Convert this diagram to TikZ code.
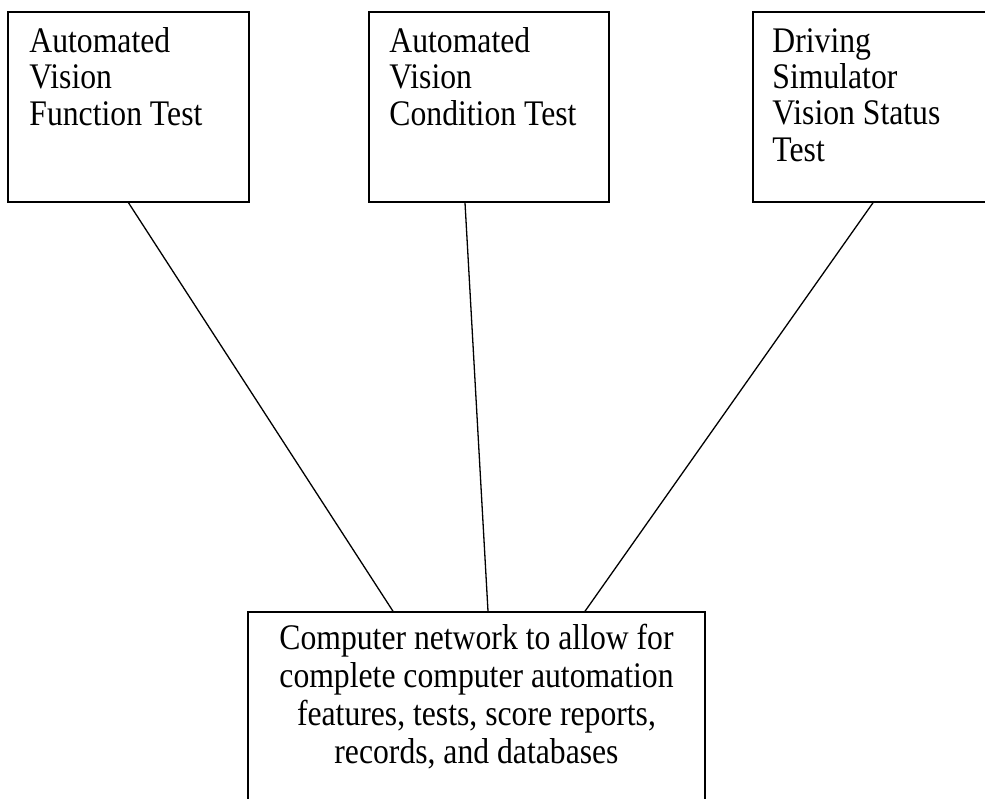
\documentclass[tikz,border=0pt]{standalone}
\usepackage{fontspec}
\setmainfont{Liberation Serif}
\newfontfamily\narrowserif[FakeStretch=0.88]{Liberation Serif}
\usetikzlibrary{positioning}

\begin{document}
\begin{tikzpicture}[x=1pt,y=-1pt,
    testbox/.style={draw, line width=1.5pt, inner sep=0pt},
    link/.style={line width=1.3pt},
    boxtext/.style={inner sep=0pt, align=left, anchor=base west,
        font=\narrowserif\fontsize{36}{36.3}\selectfont},
    nettext/.style={inner sep=0pt, align=center, anchor=base,
        font=\narrowserif\fontsize{36}{38}\selectfont}]
    \useasboundingbox (0,0) rectangle (985,798);

    \node[testbox, minimum width=241, minimum height=190] (avft) at (128.5,107) {};
    \node[testbox, minimum width=240, minimum height=190] (avct) at (489,107) {};
    \node[testbox, minimum width=242, minimum height=190] (dsvs) at (874,107) {};
    \node[testbox, minimum width=457, minimum height=260] (net) at (476.5,742) {};

    % base = baseline of the last line
    \node[boxtext] (avft-t) at ([shift={(22,114)}]avft.north west) {Automated\\Vision\\Function Test};
    \node[boxtext] (avct-t) at ([shift={(21,114)}]avct.north west) {Automated\\Vision\\Condition Test};
    \node[boxtext] (dsvs-t) at ([shift={(20,150)}]dsvs.north west) {Driving\\Simulator\\Vision Status\\Test};
    \node[nettext] (net-t) at ([yshift=-152]net.north) {Computer network to allow for\\complete computer automation\\features, tests, score reports,\\records, and databases};

    \draw[link] (avft.south) -- ([xshift=-83.5]net.north);
    \draw[link] ([xshift=-24]avct.south) -- ([xshift=11.5]net.north);
    \draw[link] ([xshift=-1]dsvs.south) -- ([xshift=108.5]net.north);
\end{tikzpicture}
\end{document}
